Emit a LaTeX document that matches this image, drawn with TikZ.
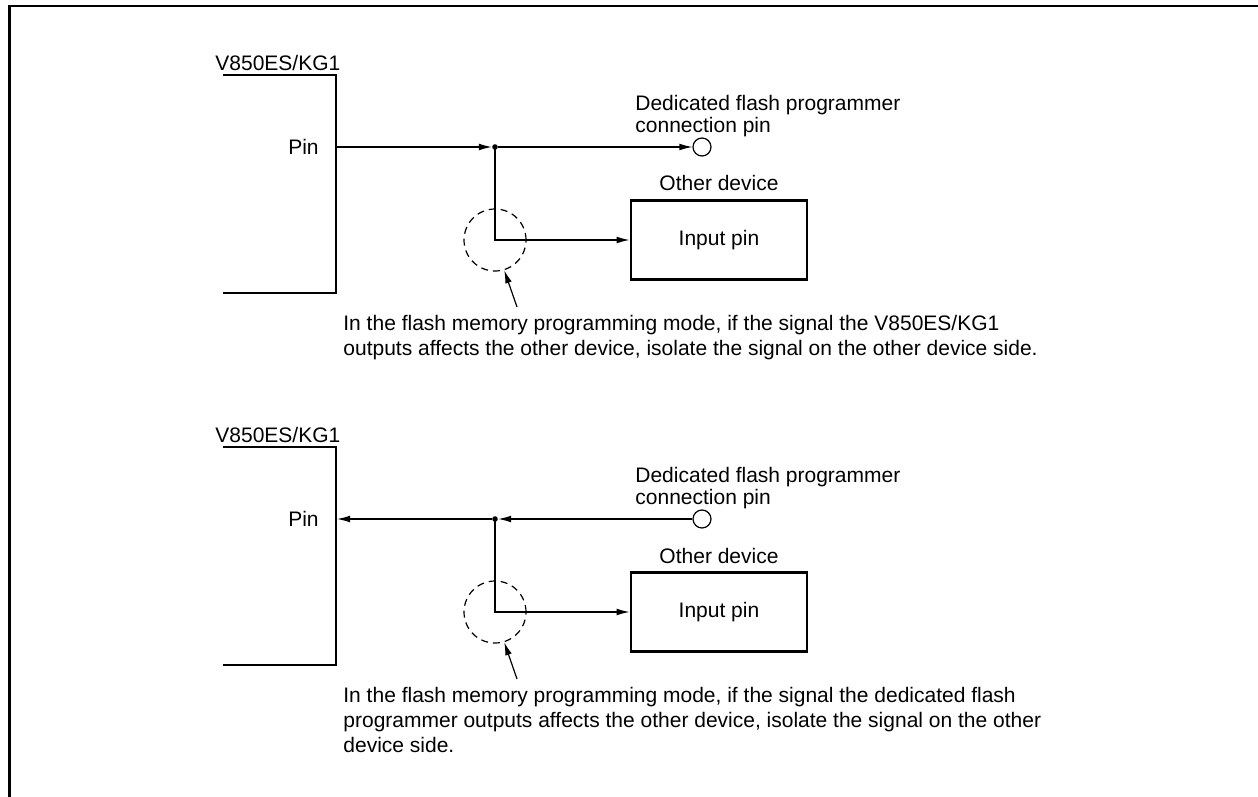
\documentclass[tikz,border=0pt]{standalone}
\usepackage{fontspec}
\setmainfont{Liberation Sans}
\usetikzlibrary{arrows.meta,positioning,calc}

\begin{document}
\begin{tikzpicture}[
    x=0.5pt, y=-0.5pt,
    every node/.style={
      font=\fontsize{10.5}{12.5}\selectfont,
      inner sep=0pt
    },
    frame/.style={line width=1.3pt},
    chip/.style={line width=1.4pt},
    wire/.style={line width=0.6pt},
    sig/.style={
      wire,
      -{Latex[length=6.5pt,width=3.4pt]}
    },
    dot/.style={circle, fill, minimum size=2.8pt},
    pinhole/.style={circle, draw, line width=0.6pt, minimum size=9pt},
    device/.style={
      draw,
      line width=1.4pt,
      minimum width=88pt,
      minimum height=39.5pt
    },
    isolate/.style={
      circle, draw,
      line width=0.6pt,
      dash pattern=on 3.5pt off 2.5pt,
      minimum size=31pt
    },
    tag/.style={anchor=north west, align=left,
      font=\fontsize{10.5}{11}\selectfont},
    note/.style={anchor=north west, align=left}
  ]

    \useasboundingbox (0,0) rectangle (1258,797);

    % Outer frame (top and left edge only)
    \draw[frame] (9.5,797) |- (1258,6);

    % ---------------- Output from the V850ES/KG1 ----------------
    \draw[chip] (223,75) -| (336,293) -- (223,293);
    \node[anchor=base west] (chipA) at (215,70.5) {V850ES/KG1};
    \node[anchor=east] (pinA) at (319,147) {Pin};
    \coordinate (edgeA) at (337,147);

    \node[dot] (jA) at (495,147) {};
    \node[pinhole] (progA) at (702,147) {};
    \node[tag] (progtagA) at (635,95) {Dedicated flash programmer\\connection pin};

    \node[device] (devA) at (719,240) {Input pin};
    \node[anchor=base] (devtagA) at (719,191) {Other device};
    \node[isolate] (isoA) at (495,240) {};

    \draw[sig] (edgeA) -- (jA.west);
    \draw[sig] (jA.east) -- (progA.west);
    \draw[sig] (jA.center) |- (devA.west);

    \node[note] (noteA) at (343,315) {In the flash memory programming mode, if the signal the V850ES/KG1\\outputs affects the other device, isolate the signal on the other device side.};
    \coordinate (tailA) at (517,307);
    \draw[sig] (tailA) -- (isoA.-73);

    % ---------------- Output from the flash programmer ----------------
    \draw[chip] (223,447) -| (336,665) -- (223,665);
    \node[anchor=base west] (chipB) at (215,442.5) {V850ES/KG1};
    \node[anchor=east] (pinB) at (319,519) {Pin};
    \coordinate (edgeB) at (337,519);

    \node[dot] (jB) at (495,519) {};
    \node[pinhole] (progB) at (702,519) {};
    \node[tag] (progtagB) at (635,467) {Dedicated flash programmer\\connection pin};

    \node[device] (devB) at (719,612) {Input pin};
    \node[anchor=base] (devtagB) at (719,563) {Other device};
    \node[isolate] (isoB) at (495,612) {};

    \draw[sig] (progB.west) -- (jB.east);
    \draw[sig] (jB.west) -- (edgeB);
    \draw[sig] (jB.center) |- (devB.west);

    \node[note] (noteB) at (343,687) {In the flash memory programming mode, if the signal the dedicated flash\\programmer outputs affects the other device, isolate the signal on the other\\device side.};
    \coordinate (tailB) at (517,679);
    \draw[sig] (tailB) -- (isoB.-73);

\end{tikzpicture}
\end{document}
